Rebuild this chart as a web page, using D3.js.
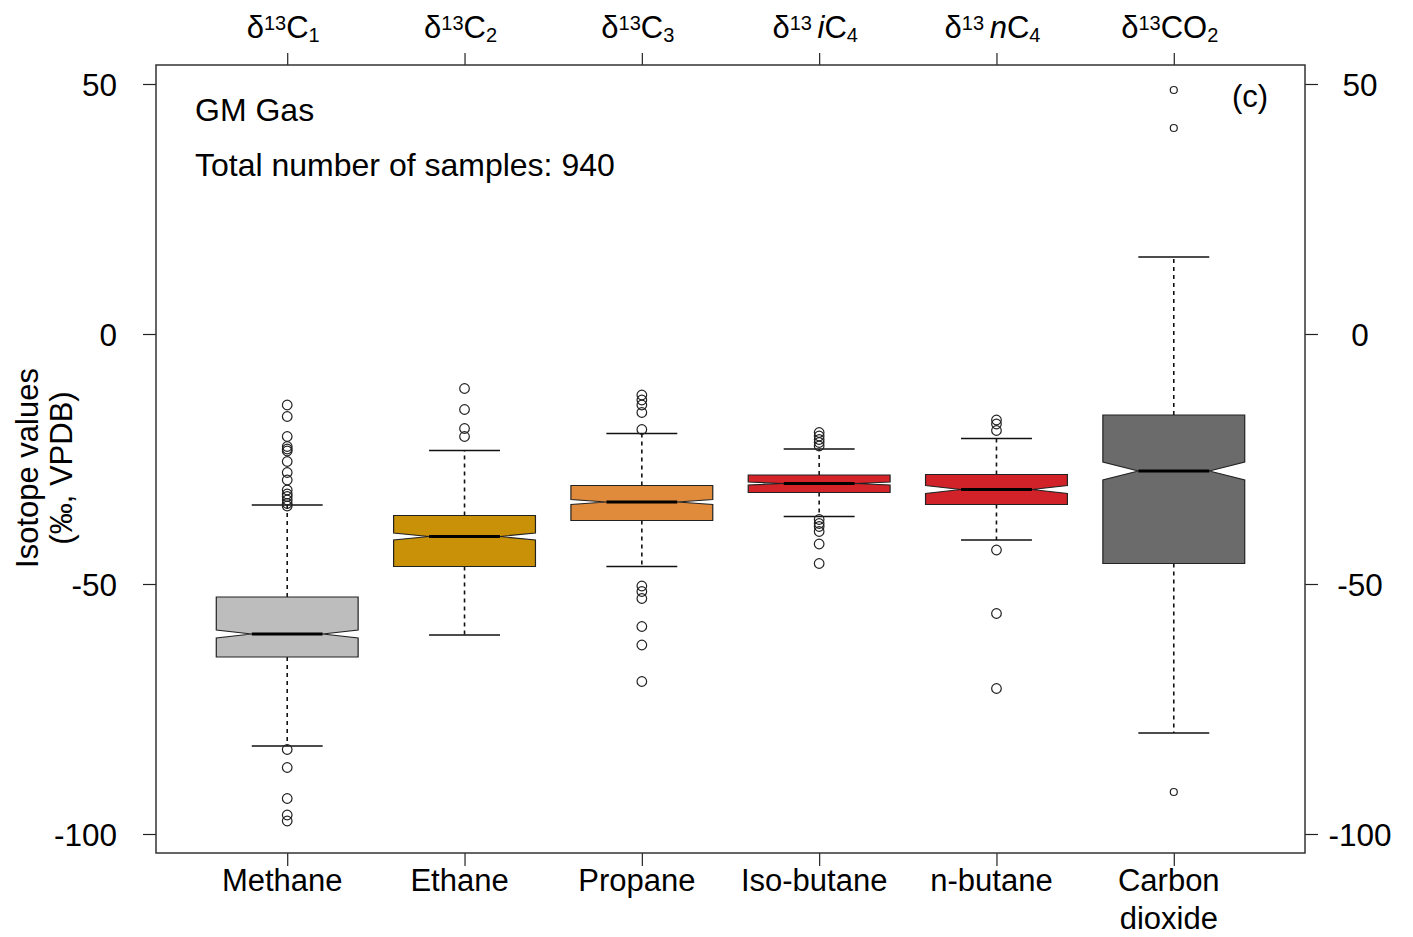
<!DOCTYPE html>
<html><head><meta charset="utf-8">
<script src="https://cdn.jsdelivr.net/npm/d3@7"></script>
<style>
body{margin:0;background:#fff;}
text{font-family:"Liberation Sans",Arial,sans-serif;fill:#000;}
</style></head><body>
<svg id="c" width="1413" height="937"></svg>
<script>
const categories = ["Methane","Ethane","Propane","Iso-butane","n-butane","Carbon\ndioxide"];
const colors = ["#bdbdbd","#c99107","#e08a3c","#d5232a","#d02228","#6b6b6b"];
const whiskerLow = [-82.4,-60.2,-46.5,-36.5,-41.2,-79.8];
const q1 = [-64.6,-46.5,-37.3,-31.7,-34.1,-45.9];
const median = [-60.0,-40.5,-33.6,-29.9,-31.1,-27.4];
const q3 = [-52.6,-36.3,-30.3,-28.2,-28.1,-16.2];
const whiskerHigh = [-34.2,-23.3,-19.9,-23.0,-20.9,15.4];
const notchHalf = [0.8,0.7,0.5,0.3,0.8,1.8];
const outliers = [
  [-14.2,-16.5,-20.5,-22.5,-23.0,-23.4,-25.5,-27.7,-29.2,-31.2,-32.0,-32.5,-33.2,-33.9,-34.4,-83.1,-86.7,-92.9,-96.2,-97.4],
  [-10.9,-15.1,-18.9,-20.5],
  [-12.2,-13.2,-14.2,-15.7,-19.1,-50.4,-51.5,-52.9,-58.5,-62.2,-69.5],
  [-19.7,-20.4,-21.1,-21.7,-22.4,-37.1,-37.9,-38.5,-39.5,-42.0,-45.9],
  [-17.2,-18.0,-19.3,-43.2,-55.9,-70.9],
  [48.8,41.2,-91.6]
];
const yTicks = [50,0,-50,-100];
const topLabels = [
  [{t:"δ"},{t:"13",sup:true},{t:"C"},{t:"1",sub:true}],
  [{t:"δ"},{t:"13",sup:true},{t:"C"},{t:"2",sub:true}],
  [{t:"δ"},{t:"13",sup:true},{t:"C"},{t:"3",sub:true}],
  [{t:"δ"},{t:"13 ",sup:true},{t:"i",it:true},{t:"C"},{t:"4",sub:true}],
  [{t:"δ"},{t:"13 ",sup:true},{t:"n",it:true},{t:"C"},{t:"4",sub:true}],
  [{t:"δ"},{t:"13",sup:true},{t:"CO"},{t:"2",sub:true}]
];

const svg = d3.select("#c");
const L=156, R=1305, T=65, B=853;
const x = d3.scaleLinear().domain([0.26, 6.74]).range([L, R]);
const y = d3.scaleLinear().domain([-103.8, 53.8]).range([B, T]);
const pos = categories.map((d,i)=>i+1);
const fmt = d => String(d);

// axes
const gL = svg.append("g").attr("transform",`translate(${L},0)`)
  .call(d3.axisLeft(y).tickValues(yTicks).tickSize(13).tickPadding(26).tickFormat(fmt));
const gR = svg.append("g").attr("transform",`translate(${R},0)`)
  .call(d3.axisRight(y).tickValues(yTicks).tickSize(13).tickPadding(8).tickFormat(fmt));
const gB = svg.append("g").attr("transform",`translate(0,${B})`)
  .call(d3.axisBottom(x).tickValues(pos).tickSize(13).tickFormat(""));
const gT = svg.append("g").attr("transform",`translate(0,${T})`)
  .call(d3.axisTop(x).tickValues(pos).tickSize(12).tickFormat(""));
[gL,gR,gB,gT].forEach(g=>{g.select(".domain").remove(); g.selectAll("line").attr("stroke","#222").attr("stroke-width",1.2);});
gL.selectAll("text").attr("font-size",31.5).attr("font-family","Liberation Sans, Arial, sans-serif").attr("dy","0.36em");
gR.selectAll("text").attr("font-size",31.5).attr("font-family","Liberation Sans, Arial, sans-serif").attr("text-anchor","middle").attr("x",55).attr("dy","0.36em");

// frame
svg.append("rect").attr("x",L).attr("y",T).attr("width",R-L).attr("height",B-T)
  .attr("fill","none").attr("stroke","#333").attr("stroke-width",1.5);

// boxes
const hw = 0.4, nf = 0.5, cap = 0.2;
const g = svg.append("g");
pos.forEach((p,i)=>{
  const n = notchHalf[i];
  g.append("line").attr("x1",x(p)).attr("x2",x(p)).attr("y1",y(q3[i])).attr("y2",y(whiskerHigh[i]))
    .attr("stroke","#111").attr("stroke-width",1.6).attr("stroke-dasharray","4,4");
  g.append("line").attr("x1",x(p)).attr("x2",x(p)).attr("y1",y(q1[i])).attr("y2",y(whiskerLow[i]))
    .attr("stroke","#111").attr("stroke-width",1.6).attr("stroke-dasharray","4,4");
  [whiskerHigh[i],whiskerLow[i]].forEach(v=>{
    g.append("line").attr("x1",x(p-cap)).attr("x2",x(p+cap)).attr("y1",y(v)).attr("y2",y(v))
      .attr("stroke","#111").attr("stroke-width",1.6);
  });
  const pts = [
    [p-hw,q1[i]],[p+hw,q1[i]],[p+hw,median[i]-n],[p+hw*nf,median[i]],[p+hw,median[i]+n],
    [p+hw,q3[i]],[p-hw,q3[i]],[p-hw,median[i]+n],[p-hw*nf,median[i]],[p-hw,median[i]-n]
  ];
  g.append("polygon").attr("points",pts.map(d=>[x(d[0]),y(d[1])].join(",")).join(" "))
    .attr("fill",colors[i]).attr("stroke","#222").attr("stroke-width",1.2);
  g.append("line").attr("x1",x(p-hw*nf)).attr("x2",x(p+hw*nf)).attr("y1",y(median[i])).attr("y2",y(median[i]))
    .attr("stroke","#000").attr("stroke-width",3);
  g.selectAll(null).data(outliers[i]).enter().append("circle")
    .attr("cx",x(p)).attr("cy",d=>y(d)).attr("r", i===5?3.5:4.8)
    .attr("fill","none").attr("stroke","#222").attr("stroke-width",1.2);
});

// bottom labels
pos.forEach((p,i)=>{
  const lines = categories[i].split("\n");
  const t = svg.append("text").attr("text-anchor","middle").attr("font-size",31)
    .attr("x",x(p)-5).attr("y",891);
  lines.forEach((l,k)=>t.append("tspan").attr("x",x(p)-5).attr("dy",k?38:0).text(l));
});

// top labels
pos.forEach((p,i)=>{
  const t = svg.append("text").attr("text-anchor","middle").attr("font-size",31)
    .attr("x",x(p)-4).attr("y",38);
  topLabels[i].forEach(s=>{
    const ts = t.append("tspan").text(s.t);
    if(s.sup) ts.attr("font-size",20).attr("baseline-shift","38%");
    else if(s.sub) ts.attr("font-size",20).attr("baseline-shift","-22%");
    if(s.it) ts.attr("font-style","italic");
  });
});

// y title
const yt = svg.append("text").attr("text-anchor","middle").attr("font-size",31)
  .attr("transform","translate(38,468) rotate(-90)");
yt.append("tspan").attr("x",0).attr("dy",0).text("Isotope values");
yt.append("tspan").attr("x",0).attr("dy",34).text("(‰, VPDB)");

// annotations
svg.append("text").attr("x",195).attr("y",121).attr("font-size",32).text("GM Gas");
svg.append("text").attr("x",195).attr("y",176).attr("font-size",32).text("Total number of samples: 940");
svg.append("text").attr("x",1232).attr("y",107).attr("font-size",31).text("(c)");
</script></body></html>
